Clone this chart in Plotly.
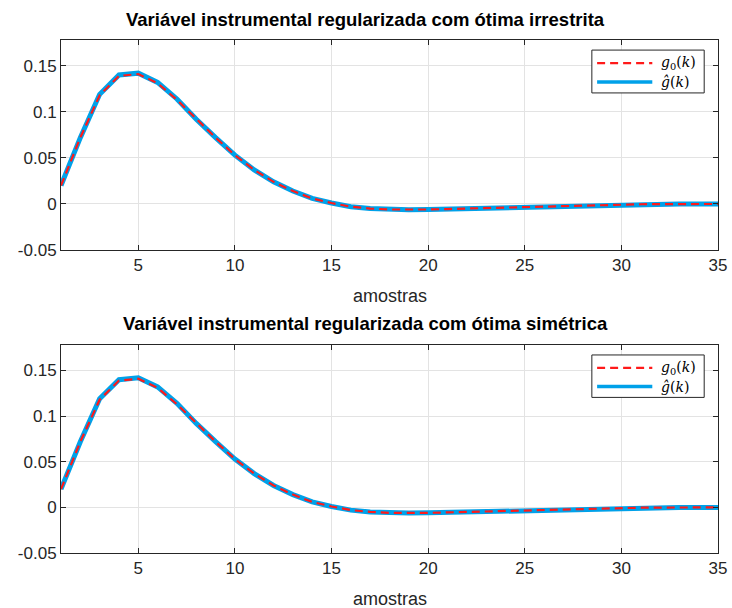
import plotly.graph_objects as go

k = list(range(1, 36))
g0 = [0.020, 0.072, 0.118, 0.139, 0.141, 0.131, 0.113, 0.092, 0.072, 0.053,
      0.037, 0.024, 0.014, 0.006, 0.001, -0.003, -0.005, -0.006, -0.0062, -0.006,
      -0.0055, -0.005, -0.0044, -0.0037, -0.003, -0.0024, -0.0018, -0.0013, -0.0009, -0.0006,
      -0.0003, -0.0002, -0.0001, 0.0, 0.0]
ghat1 = [0.020, 0.072, 0.119, 0.140, 0.142, 0.132, 0.114, 0.092, 0.072, 0.053,
         0.037, 0.024, 0.014, 0.006, 0.001, -0.003, -0.005, -0.006, -0.0062, -0.006,
         -0.0055, -0.005, -0.0044, -0.0037, -0.003, -0.0024, -0.0018, -0.0013, -0.0009, -0.0006,
         -0.0003, -0.0002, -0.0001, 0.0, 0.0]
ghat2 = [0.020, 0.072, 0.119, 0.140, 0.142, 0.132, 0.114, 0.092, 0.072, 0.053,
         0.037, 0.024, 0.014, 0.006, 0.001, -0.003, -0.005, -0.006, -0.0062, -0.006,
         -0.0055, -0.005, -0.0044, -0.0037, -0.003, -0.0024, -0.0018, -0.0013, -0.0009, -0.0006,
         -0.0003, -0.0002, -0.0001, 0.0, 0.0]
titles = ["Variável instrumental regularizada com ótima irrestrita",
          "Variável instrumental regularizada com ótima simétrica"]
xlabel = "amostras"
legend_labels = ["<i>g</i><sub>0</sub>(<i>k</i>)", "<i>ĝ</i>(<i>k</i>)"]
xticks = [5, 10, 15, 20, 25, 30, 35]
yticks = [-0.05, 0, 0.05, 0.1, 0.15]
yticklabels = ["-0.05", "0", "0.05", "0.1", "0.15"]

BLUE = "#00A1E9"
RED = "#FF1A1A"
AX = "#262626"
SANS = "Liberation Sans, Arial, sans-serif"

fig = go.Figure()
domains = [[0.5906, 1.0], [0.0, 0.4055]]
for i, gh in enumerate([ghat1, ghat2]):
    xa = "x" if i == 0 else "x2"
    ya = "y" if i == 0 else "y2"
    fig.add_trace(go.Scatter(x=k, y=gh, mode="lines", xaxis=xa, yaxis=ya,
                             line=dict(color=BLUE, width=5),
                             name=legend_labels[1], showlegend=False))
    fig.add_trace(go.Scatter(x=k, y=g0, mode="lines", xaxis=xa, yaxis=ya,
                             line=dict(color=RED, width=2.2, dash="8px,5px"),
                             name=legend_labels[0], showlegend=False))

common_x = dict(range=[1, 35], tickvals=xticks, ticks="inside", ticklen=5,
                tickcolor=AX, showline=True, linecolor=AX, linewidth=1, mirror="ticks",
                showgrid=True, gridcolor="#E3E3E3", gridwidth=1, zeroline=False,
                automargin=False, ticklabeloverflow="allow",
                tickfont=dict(family=SANS, size=17, color=AX))
common_y = dict(range=[-0.05, 0.178], tickvals=yticks, ticktext=yticklabels, ticks="inside", ticklen=5,
                tickcolor=AX, showline=True, linecolor=AX, linewidth=1, mirror="ticks",
                showgrid=True, gridcolor="#E3E3E3", gridwidth=1, zeroline=False,
                automargin=False, ticklabeloverflow="allow",
                tickfont=dict(family=SANS, size=17, color=AX))

fig.update_layout(
    xaxis=dict(common_x, domain=[0, 1], anchor="y"),
    yaxis=dict(common_y, domain=domains[0], anchor="x"),
    xaxis2=dict(common_x, domain=[0, 1], anchor="y2"),
    yaxis2=dict(common_y, domain=domains[1], anchor="x2"),
    width=732, height=608,
    margin=dict(l=61, r=14, t=40, b=55),
    plot_bgcolor="white", paper_bgcolor="white",
    showlegend=False,
)

for i, t in enumerate(titles):
    xr = "x domain" if i == 0 else "x2 domain"
    yr = "y domain" if i == 0 else "y2 domain"
    fig.add_annotation(text="<b>" + t + "</b>", xref=xr, yref=yr, x=0.464, y=1,
                       yanchor="middle", yshift=21, showarrow=False,
                       font=dict(family=SANS, size=18.5, color="black"))
    fig.add_annotation(text=xlabel, xref=xr, yref=yr, x=0.5, y=0,
                       yanchor="middle", yshift=-46, showarrow=False,
                       font=dict(family=SANS, size=18, color=AX))
    # legend box
    fig.add_shape(type="rect", xref=xr, yref=yr, x0=0.808, x1=0.979, y0=0.748, y1=0.952,
                  line=dict(color=AX, width=1), fillcolor="white", layer="above")
    fig.add_shape(type="line", xref=xr, yref=yr, x0=0.816, x1=0.9, y0=0.89, y1=0.89,
                  line=dict(color=RED, width=2.2, dash="8px,5px"), layer="above")
    fig.add_shape(type="line", xref=xr, yref=yr, x0=0.816, x1=0.9, y0=0.8, y1=0.8,
                  line=dict(color=BLUE, width=3.5), layer="above")
    fig.add_annotation(text=legend_labels[0], xref=xr, yref=yr, x=0.91, y=0.89,
                       xanchor="left", yanchor="middle", showarrow=False,
                       font=dict(family="DejaVu Serif, serif", size=14, color="black"))
    fig.add_annotation(text=legend_labels[1], xref=xr, yref=yr, x=0.91, y=0.8,
                       xanchor="left", yanchor="middle", showarrow=False,
                       font=dict(family="DejaVu Serif, serif", size=14, color="black"))

fig.write_html("out.html", config={"displayModeBar": False},
               post_script="document.body.style.margin='0';document.body.style.overflow='hidden';")
